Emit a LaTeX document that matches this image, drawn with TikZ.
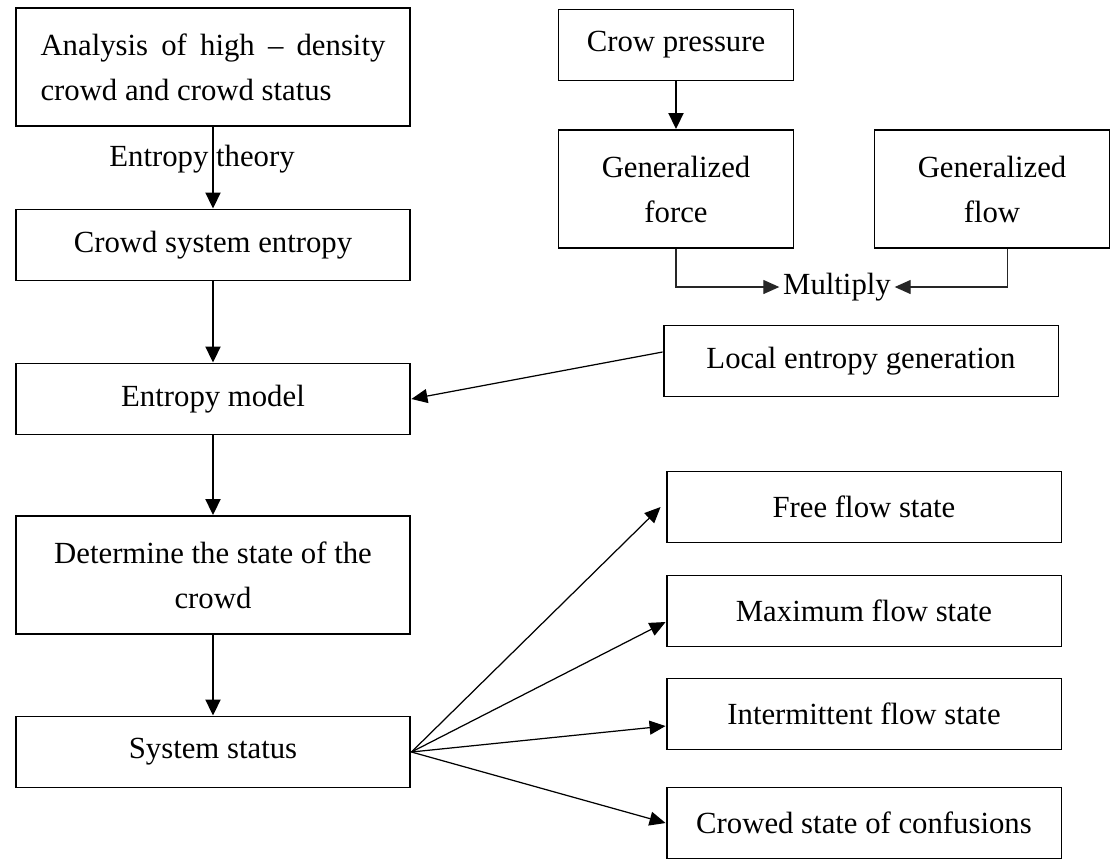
\documentclass[tikz,border=0pt]{standalone}
\usepackage{fontspec}
\setmainfont{Liberation Serif}
\usepackage{tikz}
\usetikzlibrary{positioning}
\usetikzlibrary{arrows.meta}
\tikzset{box/.style={draw, line width=1.1pt, minimum width=7.9cm, minimum height=1.42cm, inner sep=0pt}}
\tikzset{tall/.style={minimum height=2.36cm}}
\tikzset{narrow/.style={minimum width=4.7cm}}
\tikzset{arr/.style={-{Triangle[length=3.2mm,width=3mm]}, line width=1.1pt}}
\tikzset{thinarr/.style={-{Triangle[length=3.2mm,width=2.8mm]}, line width=0.7pt}}

\begin{document}
\begin{tikzpicture}[x=0.02cm, y=-0.02cm, font=\fontsize{17.5}{25.6}\selectfont]
\useasboundingbox (0,0) rectangle (1113,860);
% left column
\node[box, tall, text width=6.9cm, align=justify] (ana) at (213,67) {Analysis of high -- density crowd and crowd status};
\node[box] (cse) at (213,245) {Crowd system entropy};
\node[box] (emod) at (213,399) {Entropy model};
\node[box, tall, align=center] (det) at (213,575) {Determine the state of the\\crowd};
\node[box] (sys) at (213,752) {System status};
% top right
\node[box, narrow] (cp) at (676,45) {Crow pressure};
\node[box, narrow, tall, align=center] (gforce) at (676,189) {Generalized\\force};
\node[box, narrow, tall, align=center] (gflow) at (992,189) {Generalized\\flow};
\draw node[inner sep=2pt] (mult) at (837,287) {Multiply};
\node[box] (lent) at (861,361) {Local entropy generation};
% states
\node[box] (free) at (864,507) {Free flow state};
\node[box] (maxf) at (864,611) {Maximum flow state};
\node[box] (inter) at (864,714) {Intermittent flow state};
\node[box] (crowd) at (864,823) {Crowed state of confusions};
%\draw[arr] (ana) -- (cse);
\draw[arr] (ana) -- node[pos=0.4, xshift=-2.2mm] {Entropy theory} (cse);
\draw[arr] (cse) -- (emod);
\draw[arr] (emod) -- (det);
\draw[arr] (det) -- (sys);
\draw[arr] (cp) -- (gforce);
\draw[thinarr, black!85] (gforce.south) |- (mult.west);
\draw[thinarr, black!85] ([xshift=3.1mm]gflow.south) |- (mult.east);
\draw[thinarr] ([yshift=1.8mm]lent.west) -- (emod.east);
\draw[thinarr] (sys.east) -- ([xshift=-1mm]free.west);
\draw[thinarr] (sys.east) -- ([yshift=-2.2mm]maxf.west);
\draw[thinarr] (sys.east) -- ([yshift=-2.4mm]inter.west);
\draw[thinarr] (sys.east) -- (crowd.west);
\end{tikzpicture}
\end{document}
